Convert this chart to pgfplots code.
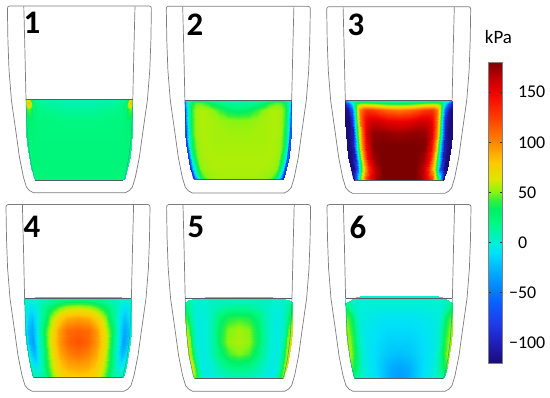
\documentclass[border=0pt]{standalone}
\usepackage{pgfplots}
\usepackage{pgfplotstable}
\usepackage{fontspec}
\setmainfont{Carlito}
\pgfplotsset{compat=1.18}
\definecolor{cupgray}{RGB}{125,125,125}
\definecolor{lvlgray}{RGB}{85,95,100}
\definecolor{wallA}{RGB}{30,175,150}
\definecolor{wallB}{RGB}{10,50,225}
\definecolor{wallC}{RGB}{25,12,120}
\pgfplotsset{colormap={kpa}{
 rgb255(0)=(25,12,120) rgb255(20)=(32,30,185) rgb255(40)=(30,60,235) rgb255(60)=(10,95,255)
 rgb255(90)=(0,170,255) rgb255(110)=(0,225,250) rgb255(120)=(0,240,215) rgb255(140)=(0,248,130)
 rgb255(153)=(0,240,100) rgb255(162)=(50,240,60) rgb255(170)=(130,245,20) rgb255(175)=(165,240,10)
 rgb255(183)=(220,230,0) rgb255(200)=(255,200,0) rgb255(220)=(255,135,0) rgb255(245)=(255,60,0)
 rgb255(270)=(240,0,0) rgb255(285)=(190,0,0) rgb255(300)=(125,0,0)}}
% t = across (0 centre, 1 wall), v = down (0 surface, 1 floor), m1..m6 = kPa per panel, e4..e6 = surface offset
\pgfplotstableread{
t v m1 m2 m3 m4 m5 m6 e4 e5 e6
0 0 8 8 12 8 6 2 -1 -1 -2.4
.2 0 8 9 12 8 6 2 -1 -1 -2.4
.35 0 9 12 13 8 6 2 -1 -1 -2.4
.5 0 10 16 15 8 5 2 -1 -1 -2.4
.62 0 11 22 18 8 4 2 -1 -1 -2.4
.72 0 13 24 20 8 3 3 -1 -.8 -2
.8 0 15 22 15 6 3 4 -1 -.3 -1
.87 0 18 15 5 5 4 6 -.5 .5 1
.94 0 55 5 -20 4 8 10 0 2 3
1 0 55 -10 -40 3 12 15 0 3.5 4.5
0 .04 9 12 40 30 7 1 0 0 0
.2 .04 9 14 42 28 7 1 0 0 0
.35 .04 10 20 48 22 6 1 0 0 0
.5 .04 12 30 55 14 5 1 0 0 0
.62 .04 13 42 58 8 3 1 0 0 0
.72 .04 15 47 55 4 2 2 0 0 0
.8 .04 18 45 40 2 2 3 0 0 0
.87 .04 26 35 -10 0 5 6 0 0 0
.94 .04 85 5 -70 2 14 12 0 .5 1
1 .04 75 -35 -90 4 20 20 0 1.5 2.5
0 .12 14 28 105 62 18 -2 0 0 0
.2 .12 14 32 110 58 15 -2 0 0 0
.35 .12 15 42 118 48 10 -2 0 0 0
.5 .12 16 52 128 32 5 -1 0 0 0
.62 .12 17 56 130 18 1 -1 0 0 0
.72 .12 19 56 105 6 0 0 0 0 0
.8 .12 21 54 40 -5 1 3 0 0 0
.87 .12 27 42 -60 -10 5 10 0 0 0
.94 .12 48 5 -110 -6 20 22 0 0 0
1 .12 40 -55 -118 3 32 32 0 0 0
0 .25 20 50 150 92 42 -8 0 0 0
.2 .25 20 51 152 88 38 -8 0 0 0
.35 .25 20 53 158 75 26 -7 0 0 0
.5 .25 21 55 160 52 8 -5 0 0 0
.62 .25 21 56 150 25 0 -4 0 0 0
.72 .25 22 56 105 6 -3 -2 0 0 0
.8 .25 23 54 25 -12 0 8 0 0 0
.87 .25 25 40 -90 -22 8 28 0 0 0
.94 .25 30 5 -118 -14 32 42 0 0 0
1 .25 28 -60 -120 2 48 48 0 0 0
0 .4 22 54 172 112 55 -12 0 0 0
.2 .4 22 54 174 108 50 -12 0 0 0
.35 .4 22 55 176 92 34 -10 0 0 0
.5 .4 22 55 174 68 10 -7 0 0 0
.62 .4 22 56 155 38 0 -5 0 0 0
.72 .4 22 56 95 12 -3 -2 0 0 0
.8 .4 23 54 10 -12 0 12 0 0 0
.87 .4 24 40 -100 -32 12 36 0 0 0
.94 .4 26 5 -118 -22 45 48 0 0 0
1 .4 24 -65 -120 0 62 56 0 0 0
0 .55 23 55 190 118 56 -16 0 0 0
.2 .55 23 55 190 112 52 -16 0 0 0
.35 .55 23 55 190 97 36 -13 0 0 0
.5 .55 23 55 178 72 11 -9 0 0 0
.62 .55 23 56 150 42 0 -6 0 0 0
.72 .55 23 55 88 12 -3 -2 0 0 0
.8 .55 23 53 5 -13 0 14 0 0 0
.87 .55 24 38 -100 -35 14 38 0 0 0
.94 .55 24 5 -118 -25 50 50 0 0 0
1 .55 22 -70 -120 0 70 60 0 0 0
0 .7 23 56 190 108 50 -22 0 0 0
.2 .7 23 56 190 102 44 -20 0 0 0
.35 .7 23 56 188 90 28 -15 0 0 0
.5 .7 23 56 172 70 10 -10 0 0 0
.62 .7 23 56 145 42 0 -6 0 0 0
.72 .7 23 55 80 14 -3 -2 0 0 0
.8 .7 24 52 0 -8 0 12 0 0 0
.87 .7 24 35 -100 -25 14 35 0 0 0
.94 .7 24 0 -118 -16 50 48 0 0 0
1 .7 20 -75 -120 3 72 60 0 0 0
0 .85 24 56 190 92 25 -31 0 0 0
.2 .85 24 56 190 90 22 -27 0 0 0
.35 .85 24 56 182 82 15 -19 0 0 0
.5 .85 24 56 165 65 6 -11 0 0 0
.62 .85 24 55 135 42 -2 -6 0 0 0
.72 .85 24 54 80 20 -3 -2 0 0 0
.8 .85 24 50 20 3 0 6 0 0 0
.87 .85 24 30 -70 -8 14 20 0 0 0
.94 .85 24 -8 -115 -5 48 36 0 0 0
1 .85 20 -80 -120 8 72 48 0 0 0
0 .95 24 55 190 82 12 -35 0 0 0
.2 .95 24 55 190 80 11 -30 0 0 0
.35 .95 24 55 183 75 8 -20 0 0 0
.5 .95 24 54 170 62 3 -11 0 0 0
.62 .95 24 53 148 42 -2 -6 0 0 0
.72 .95 24 50 120 22 -3 -2 0 0 0
.8 .95 24 42 70 10 1 3 0 0 0
.87 .95 24 20 10 5 14 10 0 0 0
.94 .95 22 -25 -70 5 42 18 0 0 0
1 .95 18 -90 -110 10 62 28 0 0 0
0 1 24 54 190 78 10 -35 0 0 0
.2 1 24 54 190 76 9 -30 0 0 0
.35 1 24 54 185 72 7 -20 0 0 0
.5 1 24 53 170 60 3 -11 0 0 0
.62 1 24 50 150 42 -2 -6 0 0 0
.72 1 24 45 130 24 -2 -2 0 0 0
.8 1 24 35 80 14 2 2 0 0 0
.87 1 24 10 30 8 15 6 0 0 0
.94 1 20 -35 -40 8 35 10 0 0 0
1 1 15 -95 -100 12 52 14 0 0 0
}\liquiddata
\pgfplotstableread{
x y
55.6 6.3
54.5 50
53.4 99.5
}\upperwall
\pgfplotstableread{
x y
53.4 99.5
52.7 120
51.5 140
49 160
46.5 172
45.2 178
44 180
}\liquidwall
\pgfplotstableread{
x y
-44 180
44 180
}\floorline
\pgfplotstableread{
x y
-70 6
70 6
71.5 6.8
72 8.5
71.5 40
70.4 70
68 100
63.3 133
60 157
56 177
53 187
50 190.5
46 192.7
-46 192.7
-50 190.5
-53 187
-56 177
-60 157
-63.3 133
-68 100
-70.4 70
-71.5 40
-72 8.5
-71.5 6.8
-70 6
}\outercup
\pgfplotstableread{
x y
-53.4 99.5
53.4 99.5
}\levelline
% #1 centre x, #2 top of outline, #3 liquid top, #4 liquid height, #5 meta column, #6 offset, #7 wall colour
\newcommand\cupplot[7]{
 \addplot[surf,shader=interp,mesh/cols=10,mesh/ordering=x varies,point meta=explicit]
  table[x expr={#1+\thisrow{t}*(53.5-9*\thisrow{v}^3)},y expr={398-(#3+\thisrow{v}*#4+#6)},meta=#5]{\liquiddata};
 \addplot[surf,shader=interp,mesh/cols=10,mesh/ordering=x varies,point meta=explicit]
  table[x expr={#1-\thisrow{t}*(53.5-9*\thisrow{v}^3)},y expr={398-(#3+\thisrow{v}*#4+#6)},meta=#5]{\liquiddata};
 \addplot[no marks,color=#7,line width=.6pt] table[x expr={#1+\thisrow{x}},y expr={398-(#3+(\thisrow{y}-99.5)*#4/80.5)}]{\liquidwall};
 \addplot[no marks,color=#7,line width=.6pt] table[x expr={#1-\thisrow{x}},y expr={398-(#3+(\thisrow{y}-99.5)*#4/80.5)}]{\liquidwall};
 \addplot[no marks,color=cupgray,line width=.7pt] table[x expr={#1+\thisrow{x}},y expr={398-(#2+\thisrow{y})}]{\upperwall};
 \addplot[no marks,color=cupgray,line width=.7pt] table[x expr={#1-\thisrow{x}},y expr={398-(#2+\thisrow{y})}]{\upperwall};
 \addplot[no marks,color=cupgray,line width=.7pt] table[x expr={#1+\thisrow{x}},y expr={398-(#2+\thisrow{y})}]{\outercup};
 \addplot[no marks,color=lvlgray,line width=.6pt] table[x expr={#1+\thisrow{x}},y expr={398-(#3+#4)}]{\floorline};
 \addplot[no marks,color=lvlgray,line width=.6pt] table[x expr={#1+\thisrow{x}},y expr={398-#3}]{\levelline};
}
\begin{document}
\begin{tikzpicture}
\useasboundingbox (0,0) rectangle (550bp,398bp);
\begin{axis}[
 at={(0,0)},anchor=south west,
 width=550bp,height=398bp,scale only axis,
 xmin=0,xmax=550,ymin=0,ymax=398,hide axis,clip=false,
 colormap name=kpa,point meta min=-120,point meta max=180,
 colorbar,
 colorbar style={
  at={(parent axis.south west)},anchor=south west,xshift=480bp,yshift=35bp,
  width=14bp,height=301bp,
  ytick={-100,-50,0,50,100,150},
  yticklabels={\llap{−}100,\llap{−}50,0,50,100,150},
  yticklabel style={font=\fontsize{18}{18}\selectfont,anchor=west,xshift=12bp},
  tick align=inside,major tick length=2.5bp,
  ytick style={color=black!80,line width=.6pt},
  axis line style={color=gray,line width=.6pt},
 },
]
\cupplot{79.4}{0}{99.5}{80.5}{m1}{0}{wallA}
\cupplot{238.3}{0.3}{100}{79.5}{m2}{0}{wallB}
\cupplot{398.7}{0.7}{100.7}{80}{m3}{0}{wallC}
\cupplot{78}{198.5}{298.3}{79.4}{m4}{\thisrow{e4}}{wallA}
\cupplot{238.6}{198.6}{298.3}{80}{m5}{\thisrow{e5}}{wallA}
\cupplot{399}{198.6}{298.3}{80}{m6}{\thisrow{e6}}{wallA}
\node[font=\fontsize{33}{33}\selectfont\bfseries] at (axis cs:32,375) {1};
\node[font=\fontsize{33}{33}\selectfont\bfseries] at (axis cs:195,373) {2};
\node[font=\fontsize{33}{33}\selectfont\bfseries] at (axis cs:356,373) {3};
\node[font=\fontsize{33}{33}\selectfont\bfseries] at (axis cs:32,171) {4};
\node[font=\fontsize{33}{33}\selectfont\bfseries] at (axis cs:196,171) {5};
\node[font=\fontsize{33}{33}\selectfont\bfseries] at (axis cs:358,171) {6};
\node[font=\fontsize{19}{19}\selectfont] at (axis cs:498.5,361) {kPa};
\end{axis}
\end{tikzpicture}
\end{document}
